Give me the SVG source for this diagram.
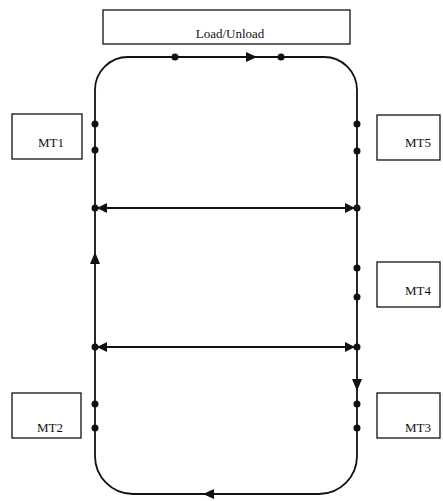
<svg xmlns="http://www.w3.org/2000/svg" width="443" height="501" viewBox="0 0 443 501">
<style>
.box{fill:#fff;stroke:#111;stroke-width:1.3}
.lbl{font-family:"Liberation Serif",serif;font-size:13px;fill:#111;text-anchor:middle}
.ln{fill:none;stroke:#111;stroke-width:1.8}
.dot{fill:#111}
.ah{fill:#111}
</style>
<defs>
<marker id="arr" viewBox="0 0 10 10" refX="10" refY="5" markerWidth="10" markerHeight="10" markerUnits="userSpaceOnUse" orient="auto-start-reverse">
<path d="M0,0 L10,5 L0,10 z" fill="#111"/>
</marker>
</defs>
<rect width="443" height="501" fill="#fff"/>
<g id="load-unload"><rect class="box" x="103" y="10" width="247" height="34"/><text class="lbl" x="230" y="38">Load/Unload</text></g>
<g id="mt1"><rect class="box" x="12" y="114" width="70" height="45"/><text class="lbl" x="51" y="147">MT1</text></g>
<g id="mt5"><rect class="box" x="377" y="115" width="63" height="45"/><text class="lbl" x="418" y="147">MT5</text></g>
<g id="mt4"><rect class="box" x="377" y="262" width="63" height="45"/><text class="lbl" x="418" y="295">MT4</text></g>
<g id="mt2"><rect class="box" x="12" y="393" width="69" height="45"/><text class="lbl" x="50" y="432">MT2</text></g>
<g id="mt3"><rect class="box" x="377" y="393" width="63" height="45"/><text class="lbl" x="418" y="432">MT3</text></g>
<g id="connectors">
<path class="ln" d="M128,57 L324,57 A33,33 0 0 1 357,90 L357,456 A38,38 0 0 1 319,494 L133,494 A38,38 0 0 1 95,456 L95,90 A33,33 0 0 1 128,57 Z"/>
<path class="ah" d="M246,52 L257,57 L246,62 z"/>
<path class="ah" d="M90,264 L95,252 L100,264 z"/>
<path class="ah" d="M352,379 L357,391 L362,379 z"/>
<path class="ah" d="M214,489 L203,494 L214,499 z"/>
<line class="ln" x1="97" y1="208" x2="355" y2="208" marker-start="url(#arr)" marker-end="url(#arr)"/>
<line class="ln" x1="97" y1="347" x2="355" y2="347" marker-start="url(#arr)" marker-end="url(#arr)"/>
<circle class="dot" cx="175" cy="57" r="3.5"/>
<circle class="dot" cx="281" cy="57" r="3.5"/>
<circle class="dot" cx="95" cy="124" r="3.5"/>
<circle class="dot" cx="95" cy="150" r="3.5"/>
<circle class="dot" cx="357" cy="124" r="3.5"/>
<circle class="dot" cx="357" cy="151" r="3.5"/>
<circle class="dot" cx="95" cy="208" r="3.5"/>
<circle class="dot" cx="357" cy="208" r="3.5"/>
<circle class="dot" cx="357" cy="268" r="3.5"/>
<circle class="dot" cx="357" cy="297" r="3.5"/>
<circle class="dot" cx="95" cy="347" r="3.5"/>
<circle class="dot" cx="357" cy="347" r="3.5"/>
<circle class="dot" cx="95" cy="404" r="3.5"/>
<circle class="dot" cx="95" cy="428" r="3.5"/>
<circle class="dot" cx="357" cy="404" r="3.5"/>
<circle class="dot" cx="357" cy="428" r="3.5"/>
</g>
</svg>
